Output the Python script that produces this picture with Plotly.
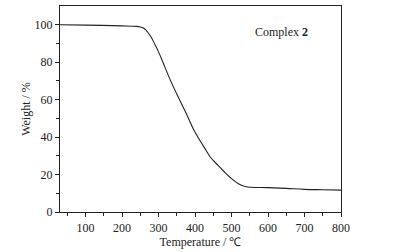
import plotly.graph_objects as go

temperature = [30, 100, 200, 240, 250, 258, 265, 272, 280, 290, 300, 312, 330, 350, 375, 395, 414, 430, 441, 460, 480, 505, 520, 535, 552, 600, 650, 700, 750, 800]
weight = [100, 99.8, 99.4, 99.1, 98.8, 98.2, 97.2, 95.6, 93.3, 89.5, 85.5, 80, 71.5, 63, 53, 44.5, 38, 33, 29.5, 25.5, 21.5, 17, 15, 13.8, 13.2, 13.0, 12.6, 12.1, 11.9, 11.7]

x_ticks = [100, 200, 300, 400, 500, 600, 700, 800]
y_ticks = [0, 20, 40, 60, 80, 100]

font = "Liberation Serif"

fig = go.Figure()
fig.add_trace(go.Scatter(x=temperature, y=weight, mode="lines",
                         line=dict(color="#222222", width=1.1, shape="spline"),
                         showlegend=False, hoverinfo="skip"))

fig.add_annotation(x=637, y=96, xref="x", yref="y", text="Complex <b>2</b>",
                   showarrow=False, font=dict(family=font, size=12, color="#222"))

axis_common = dict(showgrid=False, zeroline=False, showline=True, linecolor="#222",
                   linewidth=1.2, mirror=True, ticks="outside", ticklen=4,
                   tickcolor="#222", tickfont=dict(family=font, size=12, color="#222"))

fig.update_xaxes(range=[30, 800], tickvals=x_ticks,
                 minor=dict(tickvals=[50, 150, 250, 350, 450, 550, 650, 750], ticks="outside", ticklen=2.5, tickcolor="#222"),
                 title=dict(text="Temperature / ℃", font=dict(family=font, size=12, color="#222"), standoff=4),
                 **axis_common)
fig.update_yaxes(range=[0, 110], tickvals=y_ticks,
                 minor=dict(tickvals=[10, 30, 50, 70, 90], ticks="outside", ticklen=2.5, tickcolor="#222"),
                 title=dict(text="Weight / %", font=dict(family=font, size=12, color="#222"), standoff=1),
                 **axis_common)

fig.update_layout(width=397, height=252, margin=dict(l=60, r=56, t=5, b=38),
                  plot_bgcolor="white", paper_bgcolor="white")

fig.write_html("out.html", config={"displayModeBar": False, "staticPlot": True},
               post_script="document.body.style.margin='0';document.body.style.overflow='hidden';")
